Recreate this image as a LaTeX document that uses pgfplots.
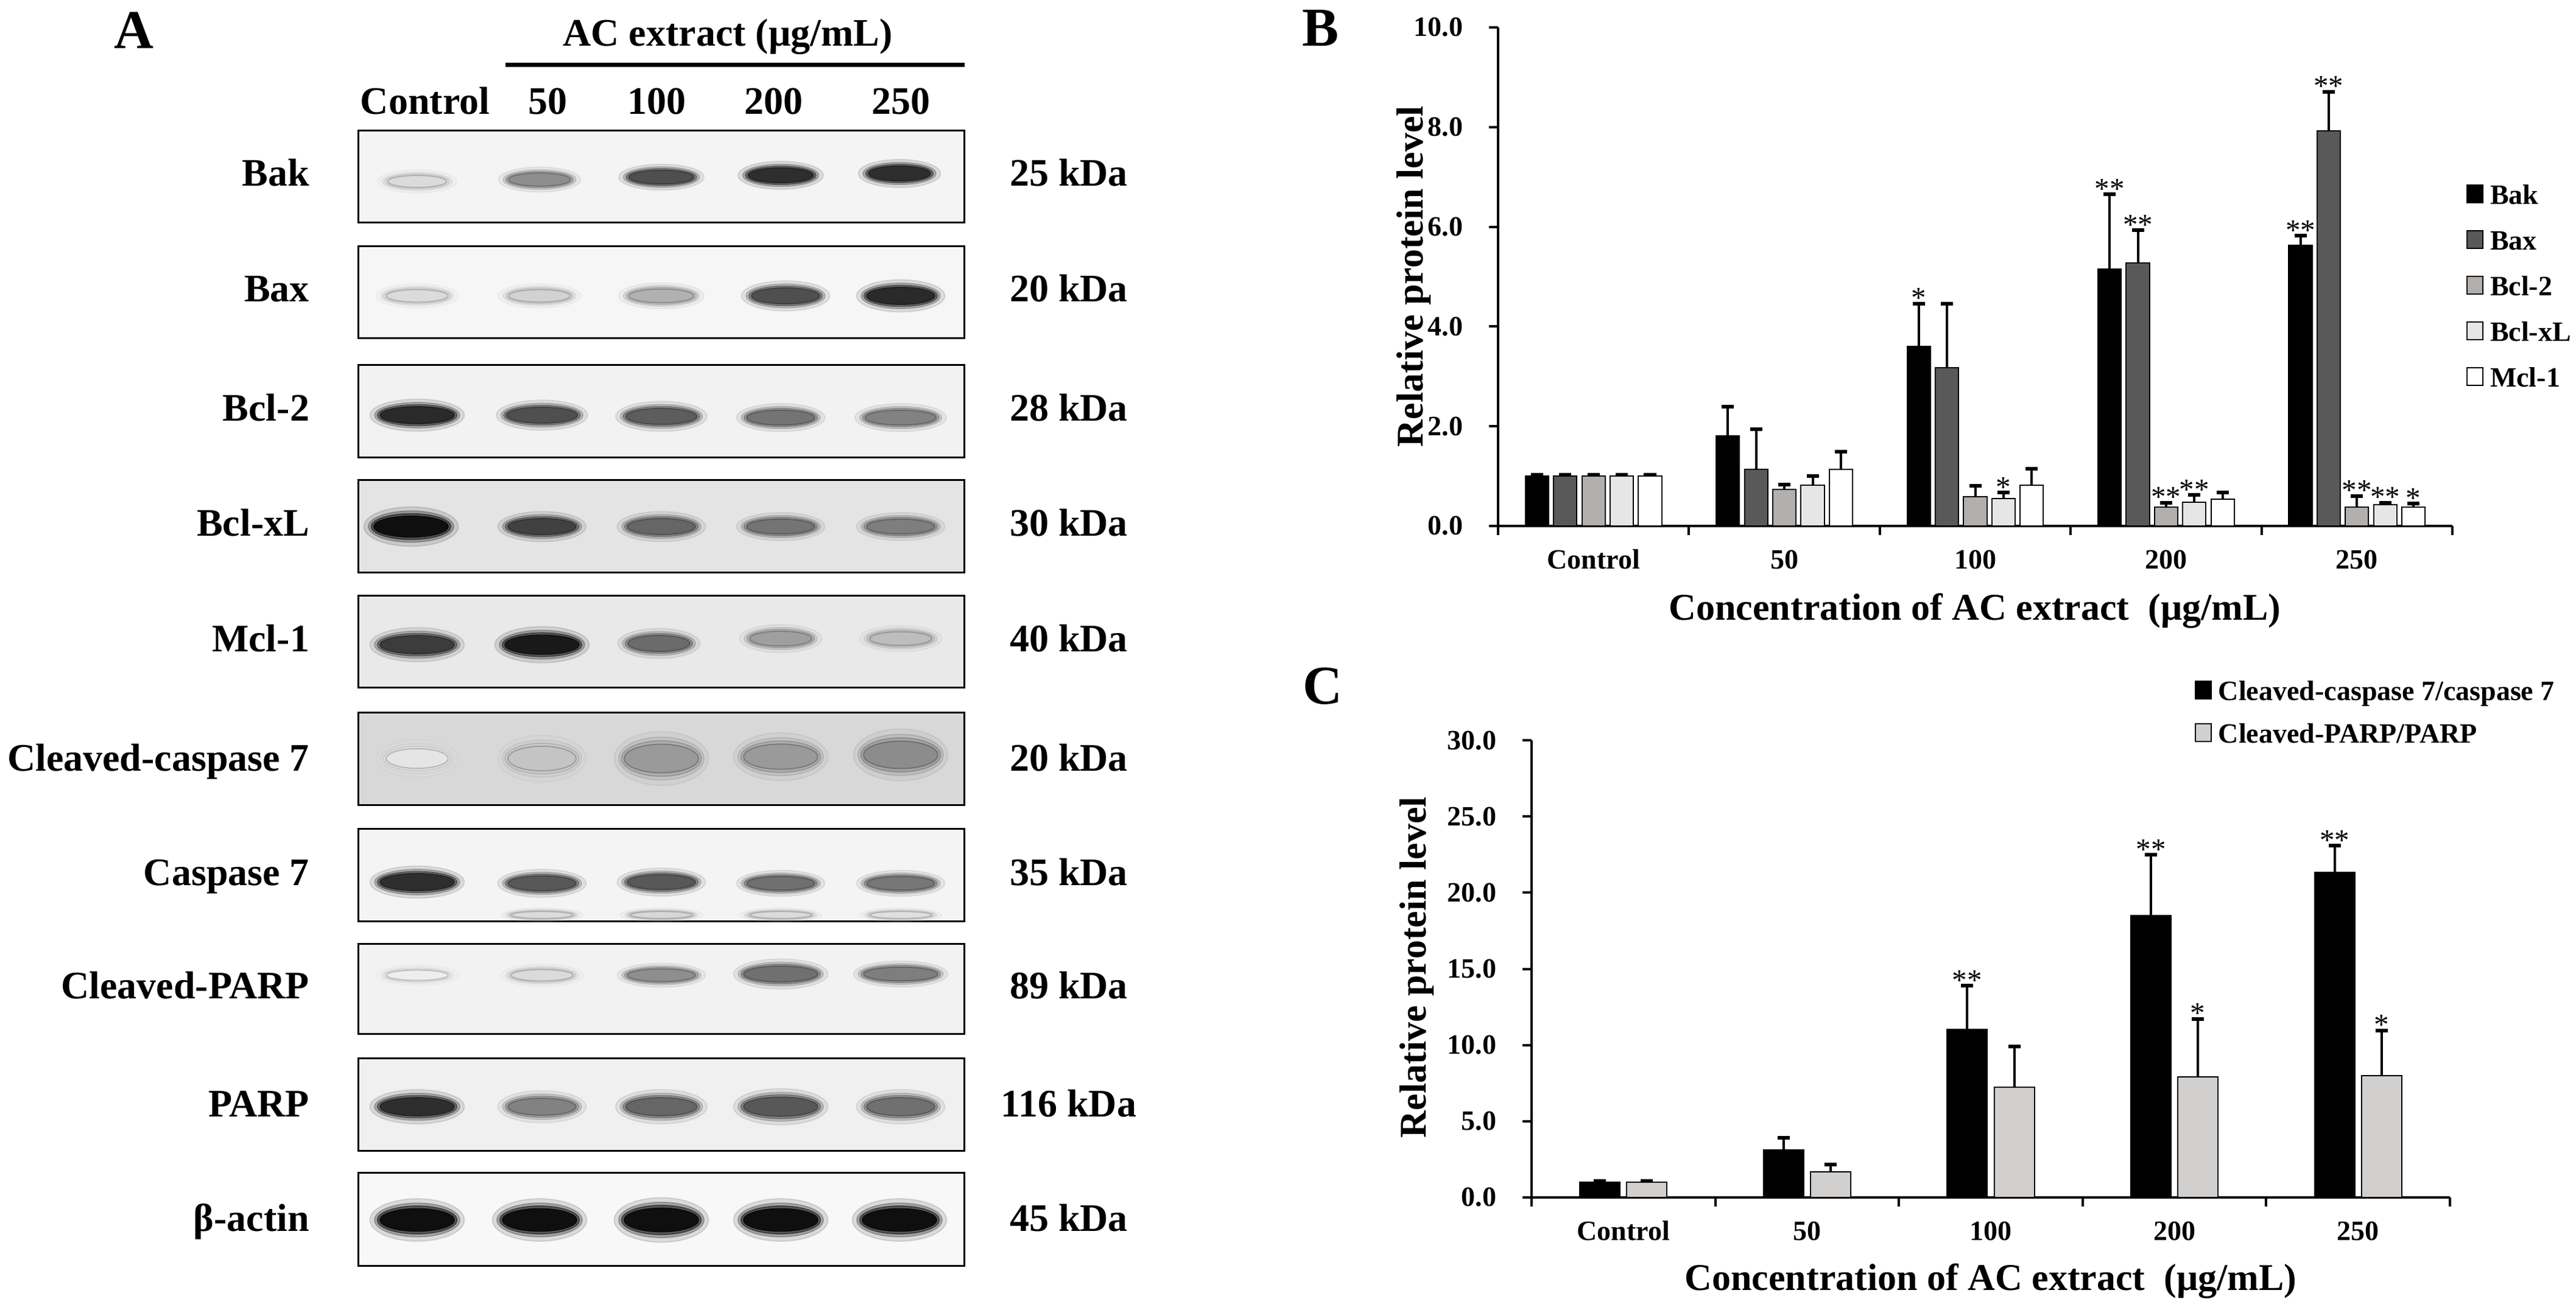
\documentclass[border=0pt]{standalone}
\usepackage{pgfplots}
\usepackage{pgfplotstable}
\pgfplotsset{compat=1.18}
\usepackage{fontspec}
\setmainfont{Liberation Serif}

\definecolor{cBax}{RGB}{89,89,89}
\definecolor{cBcltwo}{RGB}{178,175,173}
\definecolor{cBclxL}{RGB}{230,230,230}
\definecolor{cPARP}{RGB}{210,208,207}

\newcommand\fT{\fontsize{9.2bp}{11bp}\selectfont\bfseries}
\newcommand\fS{\fontsize{9.8bp}{11bp}\selectfont}
\newcommand\fL{\fontsize{12.4bp}{14bp}\selectfont\bfseries}
\newcommand\fA{\fontsize{12.8bp}{14bp}\selectfont\bfseries}
\newcommand\fBig{\fontsize{18bp}{20bp}\selectfont\bfseries}

\pgfplotstableread{
x y v w h
685 -298 0.12 10 2.2
886 -295 0.45 10.5 2.4
1086 -291 0.72 11 2.5
1282 -288 0.86 11 2.7
1477 -285 0.86 10.5 2.7
685 -486 0.12 10.5 2.3
886 -486 0.16 10.5 2.3
1086 -486 0.30 11 2.5
1290 -486 0.72 11.5 2.9
1479 -486 0.88 11.5 3.1
685 -682 0.88 12.5 3.1
890 -682 0.72 12 2.9
1086 -684 0.66 12 2.9
1282 -686 0.56 11.5 2.7
1479 -686 0.50 12 2.7
675 -865 1.00 12.5 3.8
890 -865 0.78 11.5 2.9
1086 -865 0.62 11.5 2.9
1282 -865 0.56 11.5 2.7
1479 -865 0.52 11.5 2.7
685 -1059 0.80 12.5 3.3
890 -1059 0.95 12.5 3.5
1082 -1057 0.60 10.5 2.9
1282 -1049 0.38 10.5 2.7
1479 -1049 0.25 10.5 2.5
685 -1246 0.08 10.5 3.6
890 -1246 0.22 11.5 4.5
1086 -1246 0.40 12.5 5.2
1282 -1243 0.40 12.5 4.6
1479 -1240 0.46 12.5 5.0
685 -1449 0.86 12.5 3.1
890 -1451 0.68 11.5 2.7
1086 -1449 0.68 11.5 2.7
1282 -1451 0.58 11.5 2.5
1479 -1451 0.55 11.5 2.5
890 -1503 0.12 10.5 1.3
1086 -1503 0.14 10.5 1.3
1282 -1503 0.12 10.5 1.3
1479 -1503 0.10 10.5 1.3
685 -1602 0.04 10.5 1.9
890 -1602 0.12 10.5 2.1
1086 -1602 0.45 11.5 2.3
1282 -1600 0.58 12.5 2.9
1479 -1600 0.52 12.5 2.5
685 -1818 0.86 12.5 3.3
890 -1818 0.50 11.5 3.1
1086 -1818 0.62 12 3.3
1282 -1818 0.68 12.5 3.5
1479 -1818 0.58 11.5 3.3
685 -2004 1.0 12.5 4.1
886 -2004 1.0 12.5 4.1
1086 -2004 1.0 12.5 4.3
1282 -2004 1.0 12.5 4.1
1477 -2004 1.0 12.5 4.1
}\blots

\pgfplotsset{
  panel/.style={
    scale only axis, axis lines*=left,
    axis line style={line width=0.8bp, black},
    every tick/.style={black, line width=0.8bp},
    tick align=outside, major tick length=3bp,
    xmin=-0.5, xmax=4.5, ymin=0,
    xtick={-0.5,0.5,...,4.5}, xticklabels={,,,,,},
    extra x ticks={0,1,2,3,4}, extra x tick labels={Control,50,100,200,250},
    extra x tick style={major tick length=0pt},
    tick label style={font=\fT},
    xticklabel style={anchor=base, inner sep=0pt, yshift=-14bp},
    yticklabel style={anchor=east, inner sep=0pt, xshift=-8.4bp,
      /pgf/number format/fixed, /pgf/number format/fixed zerofill,
      /pgf/number format/precision=1, /pgf/number format/assume math mode=true},
    legend style={draw=none, fill=none, inner sep=0pt, outer sep=0pt, anchor=north west,
      font=\fT, column sep=2.2bp,
      nodes={inner sep=0pt, text height=6.5bp, text depth=0pt}},
    legend cell align=left,
    clip=false,
  },
  sq/.style={legend image code/.code={\draw[##1, line width=0.4bp] (0bp,-2.9bp) rectangle (5.2bp,2.9bp);}},
  bars/.style={ybar, bar shift=0, draw=black, line width=0.4bp, sq,
    error bars/y dir=plus, error bars/y explicit,
    error bars/error bar style={line width=0.8bp, black},
    error bars/error mark options={rotate=90, line width=1.2bp, black, mark size=2bp}},
  stars/.style={forget plot, no marks, draw=none, nodes near coords, point meta=explicit symbolic,
    every node near coord/.style={anchor=base, inner sep=0pt, yshift=-1.4bp, font=\fS, black}},
  band/.style={scatter, only marks, mark=*, scatter src=explicit,
    visualization depends on={\thisrow{w}\as\bw},
    visualization depends on={\thisrow{h}\as\bh},
    mark options={draw=none}},
}

\begin{document}
\begin{tikzpicture}
\useasboundingbox (0,0) rectangle (846bp,-429.4bp);

% ---------------- Panel A: frames and labels ----------------
\begin{scope}[x=0.2bp,y=-0.2bp, every node/.style={inner sep=0pt}]
\node[anchor=base, font=\fBig] at (220,79) {A};
\node[anchor=base, font=\fA] at (1195,75) {AC extract (μg/mL)};
\draw[line width=1.4bp] (830,107) -- (1584,107);
\foreach \lx/\lt in {698/Control,900/50,1079/100,1271/200,1480/250}
  \node[anchor=base, font=\fA] at (\lx,188) {\lt};
\foreach \ta/\tb/\bg in {215/366/244,405/556/246,600/752/242,789/941/228,979/1130/233,1171/1323/216,1362/1514/244,1551/1699/242,1739/1891/240,1927/2080/248}{
  \definecolor{bgc}{RGB}{\bg,\bg,\bg}
  \filldraw[fill=bgc, draw=black, line width=0.6bp] (589,\ta) rectangle (1584,\tb);
}
\foreach \cy/\lab/\kd in {285/Bak/25 kDa, 475/Bax/20 kDa, 671/Bcl-2/28 kDa, 860/Bcl-xL/30 kDa, 1050/Mcl-1/40 kDa, 1246/Cleaved-caspase 7/20 kDa, 1434/Caspase 7/35 kDa, 1620/Cleaved-PARP/89 kDa, 1814/PARP/116 kDa, 2002/β-actin/45 kDa}{
  \node[anchor=base east, font=\fA] at (509,\cy+21) {\lab};
  \node[anchor=base, font=\fA] at (1755,\cy+21) {\kd};
}
\node[anchor=base, font=\fBig] at (2169,75) {B};
\node[anchor=base, font=\fBig] at (2172,1157) {C};
\node[rotate=90, font=\fL] at (2322,454) {Relative protein level};
\node[rotate=90, font=\fL] at (2327,1589) {Relative protein level};
\node[anchor=base, font=\fL] at (3243,1019) {Concentration of AC extract\ \ (μg/mL)};
\node[anchor=base, font=\fL] at (3269,2120) {Concentration of AC extract\ \ (μg/mL)};
\end{scope}

% ---------------- Panel A: bands ----------------
\begin{axis}[hide axis, scale only axis, width=199bp, height=373bp,
  at={(117.8bp,-416bp)}, anchor=south west,
  xmin=589, xmax=1584, ymin=-2080, ymax=-215,
  colormap={blot}{gray(0cm)=(0.97) gray(1cm)=(0.06)},
  point meta min=0, point meta max=1]
\addplot[band, opacity=0.12,
  scatter/@pre marker code/.append style={/tikz/mark size=1.7*\bh bp, /tikz/xscale=(\bw+3)/(1.7*\bh)}]
  table[x=x,y=y,meta=v] {\blots};
\addplot[band, opacity=0.25,
  scatter/@pre marker code/.append style={/tikz/mark size=1.35*\bh bp, /tikz/xscale=(\bw+1.5)/(1.35*\bh)}]
  table[x=x,y=y,meta=v] {\blots};
\addplot[band, opacity=0.5,
  scatter/@pre marker code/.append style={/tikz/mark size=1.12*\bh bp, /tikz/xscale=(\bw+0.6)/(1.12*\bh)}]
  table[x=x,y=y,meta=v] {\blots};
\addplot[band,
  scatter/@pre marker code/.append style={/tikz/mark size=0.9*\bh bp, /tikz/xscale=(\bw-0.3)/(0.9*\bh)}]
  table[x=x,y=y,meta=v] {\blots};
\end{axis}

% ---------------- Panel B ----------------
\begin{axis}[panel, at={(492bp,-172.8bp)}, anchor=south west,
  width=313.4bp, height=163.8bp, ymax=10, ytick={0,2,...,10},
  legend style={at={(1.0147,0.6856)}, row sep=8.5bp}]
\addplot[bars, bar width=0.122, fill=black] table[x=x,y=y,y error=e] {
x y e
-0.296 1.00 0.03
0.704 1.81 0.58
1.704 3.60 0.86
2.704 5.15 1.50
3.704 5.63 0.19
};
\addlegendentry{Bak}
\addplot[bars, bar width=0.122, fill=cBax] table[x=x,y=y,y error=e] {
x y e
-0.148 1.00 0.03
0.852 1.13 0.81
1.852 3.17 1.29
2.852 5.28 0.65
3.852 7.93 0.78
};
\addlegendentry{Bax}
\addplot[bars, bar width=0.122, fill=cBcltwo] table[x=x,y=y,y error=e] {
x y e
0 1.00 0.03
1 0.73 0.10
2 0.59 0.21
3 0.38 0.09
4 0.38 0.22
};
\addlegendentry{Bcl-2}
\addplot[bars, bar width=0.122, fill=cBclxL] table[x=x,y=y,y error=e] {
x y e
0.148 1.00 0.03
1.148 0.82 0.18
2.148 0.55 0.12
3.148 0.48 0.14
4.148 0.43 0.04
};
\addlegendentry{Bcl-xL}
\addplot[bars, bar width=0.122, fill=white] table[x=x,y=y,y error=e] {
x y e
0.296 1.00 0.03
1.296 1.14 0.35
2.296 0.82 0.33
3.296 0.54 0.13
4.296 0.38 0.07
};
\addlegendentry{Mcl-1}
\addplot[stars] coordinates {
(1.704,4.46) [*] (2.148,0.67) [*]
(2.704,6.65) [**] (2.852,5.93) [**] (3.0,0.47) [**] (3.148,0.62) [**]
(3.704,5.82) [**] (3.852,8.71) [**] (4.0,0.60) [**] (4.148,0.47) [**] (4.296,0.45) [*]
};
\end{axis}

% ---------------- Panel C ----------------
\begin{axis}[panel, at={(503bp,-393.4bp)}, anchor=south west,
  width=301.6bp, height=150.2bp, ymax=30, ytick={0,5,...,30},
  legend style={at={(0.7221,1.131)}, row sep=7.5bp}]
\addplot[bars, bar width=0.219, fill=black] table[x=x,y=y,y error=e] {
x y e
-0.128 0.98 0.08
0.872 3.10 0.80
1.872 11.03 2.88
2.872 18.49 3.99
3.872 21.35 1.73
};
\addlegendentry{Cleaved-caspase 7/caspase 7}
\addplot[bars, bar width=0.219, fill=cPARP] table[x=x,y=y,y error=e] {
x y e
0.128 0.98 0.08
1.128 1.67 0.50
2.128 7.25 2.65
3.128 7.91 3.81
4.128 7.99 2.96
};
\addlegendentry{Cleaved-PARP/PARP}
\addplot[stars] coordinates {
(1.872,13.9) [**] (2.872,22.48) [**] (3.128,11.72) [*] (3.872,23.08) [**] (4.128,10.95) [*]
};
\end{axis}
\end{tikzpicture}
\end{document}
